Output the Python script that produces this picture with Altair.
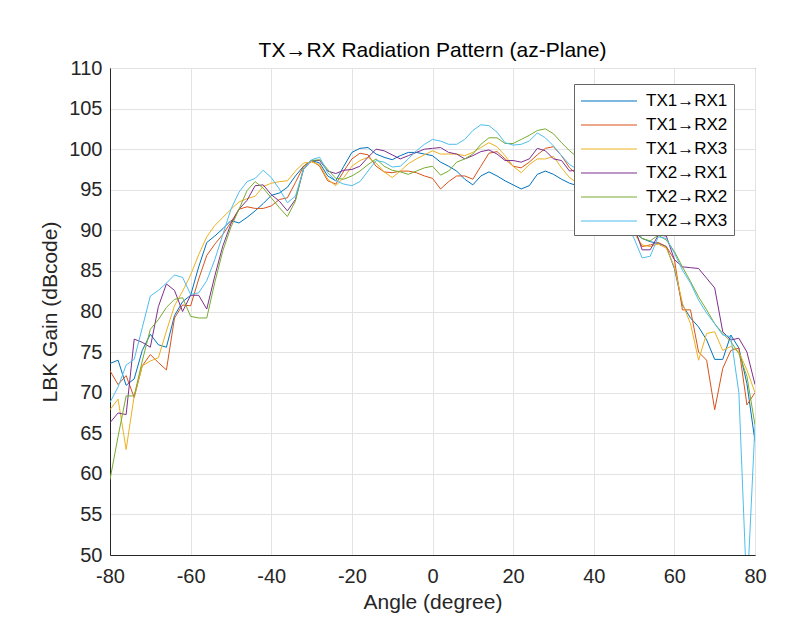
import altair as alt
import pandas as pd

angles = list(range(-80, 81, 2))

series_names = ["TX1→RX1", "TX1→RX2", "TX1→RX3", "TX2→RX1", "TX2→RX2", "TX2→RX3"]
colors = ["#0072BD", "#D95319", "#EDB120", "#7E2F8E", "#77AC30", "#4DBEEE"]

tx1_rx1 = [73.6, 74.0, 70.9, 71.7, 75.2, 77.2, 75.9, 75.6, 79.5, 81.2,
           82.0, 85.5, 88.5, 89.3, 90.2, 91.2, 90.9, 91.6, 92.4, 93.3,
           94.3, 94.6, 95.3, 96.7, 97.9, 98.6, 98.3, 96.7, 96.1, 97.9,
           99.6, 100.1, 100.2, 99.4, 99.0, 98.7, 99.2, 99.6, 99.6, 99.4,
           99.2, 98.4, 97.9, 97.3, 96.3, 95.6, 96.7, 97.2, 96.7, 96.1,
           95.6, 95.1, 95.5, 96.9, 97.3, 96.9, 96.3, 95.8, 95.5, 95.0,
           94.3, 93.5, 92.6, 91.8, 90.7, 89.8, 89.0, 88.6, 88.4, 88.0,
           85.3, 80.8, 79.2, 78.1, 76.5, 74.1, 74.1, 77.1, 75.5, 71.1,
           64.0]
tx1_rx2 = [72.7, 71.0, 72.1, 69.4, 73.3, 74.7, 73.7, 72.8, 79.2, 80.8,
           80.7, 84.0, 86.9, 88.3, 89.5, 91.0, 92.6, 92.9, 92.7, 92.7,
           93.0, 93.8, 94.0, 95.9, 97.9, 98.6, 97.9, 96.1, 95.7, 97.3,
           98.8, 99.5, 99.3, 97.9, 97.2, 97.1, 97.3, 97.3, 97.1, 96.7,
           96.4, 95.1, 96.0, 96.7, 96.7, 96.3, 97.9, 99.5, 99.7, 98.8,
           97.9, 97.7, 98.4, 99.3, 100.1, 100.3, 99.2, 97.7, 96.8, 96.0,
           95.0, 94.0, 93.0, 92.0, 91.0, 90.0, 88.0, 88.2, 88.5, 88.0,
           86.4, 80.2, 80.2, 75.0, 74.0, 67.9, 73.0, 75.2, 75.5, 68.5,
           70.0]
tx1_rx3 = [67.9, 69.2, 63.0, 69.6, 73.3, 73.9, 74.3, 77.6, 80.7, 82.5,
           84.5, 87.0, 89.2, 90.6, 91.6, 92.6, 93.5, 93.9, 94.2, 95.4,
           95.8, 96.0, 96.1, 97.3, 98.3, 98.4, 98.1, 96.3, 95.5, 96.5,
           97.9, 98.6, 99.0, 98.3, 97.2, 96.5, 97.3, 98.2, 98.8, 99.3,
           99.8, 99.4, 99.4, 99.4, 99.2, 99.6, 100.2, 100.8, 100.3, 99.2,
           97.9, 97.1, 98.1, 98.8, 98.8, 99.1, 97.7, 96.5, 95.8, 95.0,
           94.2, 93.4, 92.5, 91.6, 90.6, 89.6, 88.2, 88.0, 88.3, 87.8,
           85.5, 81.0, 78.5, 74.0, 77.3, 77.5, 75.2, 75.7, 75.0, 72.8,
           70.0]
tx2_rx1 = [66.3, 67.5, 67.3, 76.6, 76.2, 75.6, 80.6, 83.4, 82.6, 80.0,
           82.0, 82.0, 80.3, 84.4, 88.1, 90.8, 92.6, 93.7, 95.5, 95.6,
           94.4, 93.6, 92.4, 93.8, 97.5, 98.6, 98.6, 97.3, 97.0, 97.4,
           97.5, 97.9, 99.0, 100.0, 99.8, 99.3, 98.8, 99.2, 99.6, 100.0,
           100.1, 100.2, 99.6, 99.4, 98.8, 99.2, 99.7, 99.9, 99.4, 98.6,
           98.6, 98.4, 98.8, 100.1, 99.8, 98.8, 98.6, 97.3, 97.5, 96.8,
           96.0, 95.0, 94.0, 93.0, 91.8, 90.5, 87.6, 87.6, 89.4, 89.3,
           86.4, 85.5, 85.4, 85.3, 84.1, 82.9, 77.5, 76.5, 76.7, 75.0,
           71.0]
tx2_rx2 = [59.3, 64.6, 69.6, 69.6, 73.9, 77.8, 79.0, 80.5, 81.5, 81.7,
           79.4, 79.2, 79.2, 83.6, 87.5, 90.4, 92.6, 94.9, 96.0, 95.2,
           94.0, 92.8, 91.7, 93.6, 97.7, 98.6, 98.7, 97.5, 96.4, 96.3,
           96.7, 97.3, 98.1, 98.8, 97.9, 97.4, 97.2, 96.9, 97.3, 97.7,
           97.9, 96.8, 97.3, 98.4, 98.8, 99.4, 100.6, 101.4, 101.4, 100.7,
           100.7, 101.2, 101.7, 102.3, 102.5, 101.9, 100.8, 99.8, 99.0, 98.0,
           97.0, 96.0, 94.8, 93.5, 92.0, 90.5, 89.0, 88.7, 89.4, 88.8,
           87.4, 85.5, 83.7, 81.8, 80.2, 78.5, 77.3, 76.3, 74.8, 72.0,
           66.0]
tx2_rx3 = [68.8, 70.7, 73.4, 74.1, 78.0, 81.9, 82.6, 83.5, 84.5, 84.2,
           82.1, 82.3, 83.8, 86.4, 89.5, 92.6, 94.7, 96.0, 96.4, 97.4,
           96.5, 95.1, 93.4, 94.2, 97.5, 98.7, 99.0, 97.1, 96.1, 95.7,
           95.5, 96.0, 97.3, 98.6, 98.4, 97.8, 97.9, 98.8, 99.8, 100.6,
           101.2, 101.0, 100.6, 100.6, 101.2, 102.3, 103.0, 102.9, 102.1, 100.8,
           100.5, 100.6, 101.0, 102.0, 101.4, 100.4, 99.2, 98.1, 97.5, 96.5,
           95.5, 94.5, 93.5, 92.3, 91.0, 89.0, 86.6, 86.8, 89.2, 89.0,
           87.2, 85.1, 83.5, 81.4, 79.8, 78.5, 77.1, 76.9, 70.0, 45.0,
           66.0]

all_series = [tx1_rx1, tx1_rx2, tx1_rx3, tx2_rx1, tx2_rx2, tx2_rx3]

rows = []
for name, vals in zip(series_names, all_series):
    for a, v in zip(angles, vals):
        rows.append({"angle": a, "gain": v, "series": name})
df = pd.DataFrame(rows)

FONT = "Liberation Sans"

chart = alt.Chart(df).mark_line(clip=True, strokeWidth=1).encode(
    x=alt.X("angle:Q",
            scale=alt.Scale(domain=[-80, 80], nice=False, zero=False),
            axis=alt.Axis(values=list(range(-80, 81, 20)), title="Angle (degree)",
                          titlePadding=5, labelPadding=11, labelFlush=False,
                          labelExpr="'' + datum.value")),
    y=alt.Y("gain:Q",
            scale=alt.Scale(domain=[50, 110], nice=False, zero=False),
            axis=alt.Axis(values=list(range(50, 111, 5)), title="LBK Gain (dBcode)",
                          titlePadding=8, labelPadding=8, labelFlush=False,
                          labelExpr="'' + datum.value")),
    color=alt.Color("series:N",
                    scale=alt.Scale(domain=series_names, range=colors),
                    sort=series_names,
                    legend=alt.Legend(title=None, orient="none", legendX=464, legendY=16,
                                      fillColor="white", strokeColor="#666666",
                                      padding=6, symbolType="M-1,0L4.6,0",
                                      symbolSize=400, symbolStrokeWidth=1.2,
                                      labelFontSize=17, labelFont=FONT,
                                      labelColor="black", labelOffset=44,
                                      rowPadding=5)),
    detail="series:N",
).properties(
    width=645,
    height=487,
    title=alt.TitleParams("TX→RX Radiation Pattern (az-Plane)", fontSize=21,
                          font=FONT, fontWeight="normal", color="black", offset=-3),
    autosize=alt.AutoSizeParams(type="none"),
    padding={"left": 102, "top": 60, "right": 40, "bottom": 58},
).configure_view(
    stroke="#262626", strokeWidth=1
).configure_axis(
    labelFont=FONT, titleFont=FONT, labelFontSize=20, titleFontSize=21,
    labelColor="#262626", titleColor="#262626", titleFontWeight="normal",
    gridColor="#e3e3e3", domainColor="#262626", ticks=False,
)

chart.save("out.html", embed_options={"renderer": "svg", "actions": False})
